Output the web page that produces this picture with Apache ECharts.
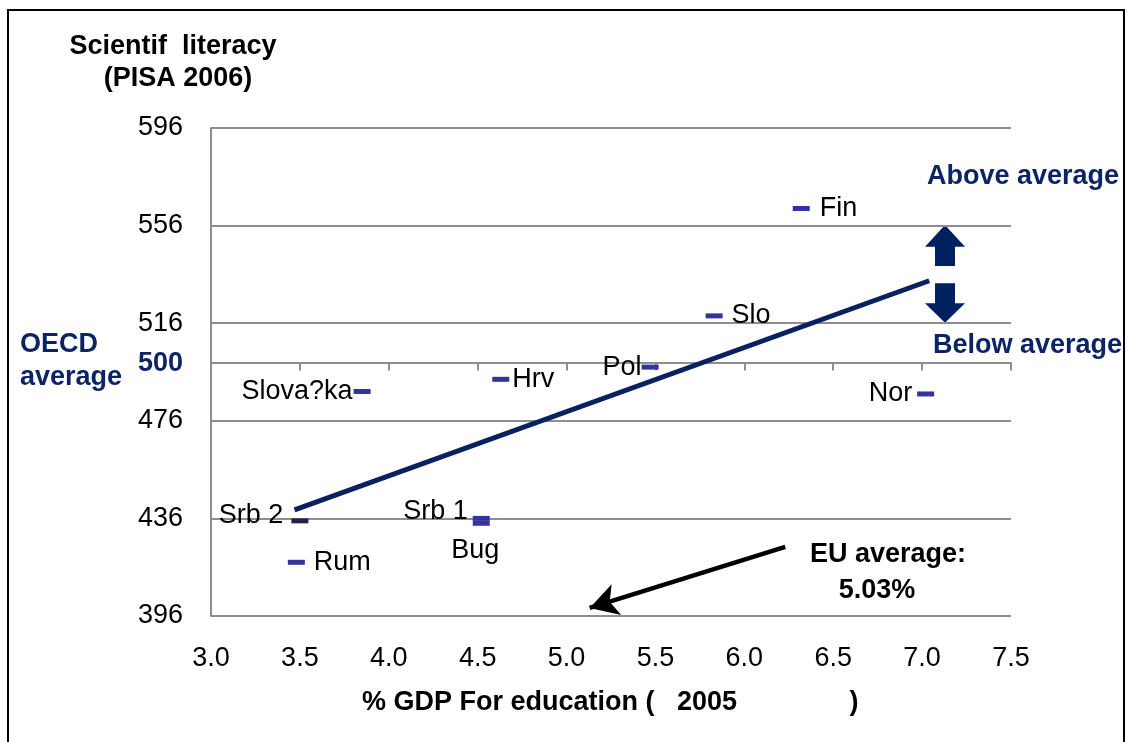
<!DOCTYPE html>
<html>
<head>
<meta charset="utf-8">
<title>PISA 2006 vs GDP for education</title>
<script src="https://cdn.jsdelivr.net/npm/echarts@6/dist/echarts.min.js"></script>
<style>
  html, body { margin: 0; padding: 0; background: #fff; }
  #main { width: 1130px; height: 742px; }
</style>
</head>
<body>
<div id="main"></div>
<script>
// countries, % of GDP for education (2005) and PISA 2006 science score
var countries = ['Fin', 'Slo', 'Pol', 'Hrv', 'Slova?ka', 'Nor', 'Srb 1', 'Bug', 'Srb 2', 'Rum'];
var gdpShare  = [6.32, 5.83, 5.47, 4.63, 3.85, 7.02, 4.52, 4.52, 3.50, 3.48];
var pisaScore = [563, 519, 498, 493, 488, 487, 436, 434, 435, 418];

// trend line
var trendX = [3.47, 7.04];
var trendY = [439.5, 533.4];

// axis ranges
var xRange = [3.0, 7.5, 0.5];   // min, max, step
var yRange = [396, 596, 40];
var oecdAverage = 500;

// EU average pointer, from the text down to the x axis
var euArrowX = [6.23, 5.13];
var euArrowY = [424.3, 399.3];

var FONT = 'Liberation Sans, Arial, sans-serif';
var FS = 27;
var NAVY = '#0b2466';
var GRID = '#8e8e8e';

// where every country name goes
var labelPlace = {
  'Fin':      { position: 'right', distance: 10 },
  'Slo':      { position: 'right', distance: 9 },
  'Pol':      { position: 'left',  distance: 0 },
  'Hrv':      { position: 'right', distance: 3 },
  'Slova?ka': { position: 'left',  distance: 1 },
  'Nor':      { position: 'left',  distance: 5 },
  'Srb 1':    { position: 'left',  distance: 5, offset: [0, -7] },
  'Bug':      { position: 'bottom', distance: 11, offset: [-6, 0] },
  'Srb 2':    { position: 'left',  distance: 8, offset: [0, -5] },
  'Rum':      { position: 'right', distance: 9 }
};

var points = countries.map(function (name, i) {
  var p = labelPlace[name];
  var item = {
    name: name,
    value: [gdpShare[i], pisaScore[i]],
    label: {
      show: true,
      formatter: '{b}',
      position: p.position,
      distance: p.distance,
      offset: p.offset || [0, 0]
    }
  };
  if (name === 'Srb 2') item.itemStyle = { color: '#22224a' };
  return item;
});

var trendData = trendX.map(function (x, i) { return [x, trendY[i]]; });

var myChart = echarts.init(document.getElementById('main'));

var option = {
  backgroundColor: '#fff',
  animation: false,
  textStyle: { fontFamily: FONT },
  grid: { left: 211, right: 119, top: 128, bottom: 126 },
  xAxis: [
    {
      type: 'value',
      min: xRange[0], max: xRange[1], interval: xRange[2],
      axisLine: { show: false },
      axisTick: { show: false },
      splitLine: { show: false },
      axisLabel: {
        fontSize: FS, color: '#000', margin: 29, fontFamily: FONT,
        formatter: function (v) { return v.toFixed(1); }
      }
    },
    {
      // the horizontal axis crosses at the OECD average
      type: 'value',
      position: 'bottom',
      offset: -(616 - 362.4),
      min: xRange[0], max: xRange[1], interval: xRange[2],
      axisLine: { show: true, lineStyle: { color: GRID, width: 2 } },
      axisTick: { show: true, length: 8, lineStyle: { color: GRID, width: 2 } },
      axisLabel: { show: false },
      splitLine: { show: false }
    }
  ],
  yAxis: {
    type: 'value',
    min: yRange[0], max: yRange[1], interval: yRange[2],
    axisLine: { show: true, lineStyle: { color: GRID, width: 2 } },
    axisTick: { show: false },
    splitLine: { show: true, lineStyle: { color: GRID, width: 2 } },
    axisLabel: { fontSize: FS, color: '#000', margin: 28, fontFamily: FONT }
  },
  series: [
    {
      name: 'trend',
      type: 'line',
      data: trendData,
      showSymbol: false,
      symbol: 'none',
      lineStyle: { color: '#0a2160', width: 5 },
      z: 3,
      markLine: {
        silent: true,
        symbol: ['none', 'arrow'],
        symbolSize: [24, 28],
        lineStyle: { color: '#000', width: 4.5, type: 'solid', opacity: 1 },
        label: { show: false },
        data: [[
          { coord: [euArrowX[0], euArrowY[0]] },
          { coord: [euArrowX[1], euArrowY[1]] }
        ]]
      }
    },
    {
      name: 'countries',
      type: 'scatter',
      data: points,
      symbol: 'rect',
      symbolSize: [17, 5],
      itemStyle: { color: '#333399', opacity: 1 },
      label: { fontSize: FS, color: '#000', fontFamily: FONT },
      z: 4
    }
  ],
  graphic: [
    {
      type: 'rect', silent: true,
      shape: { x: 8, y: 10, width: 1116, height: 760 },
      style: { fill: 'none', stroke: '#000', lineWidth: 2 }
    },
    { type: 'text', style: { x: 173, y: 47, text: 'Scientif  literacy', font: 'bold 27px ' + FONT, fill: '#000', textAlign: 'center', textVerticalAlign: 'middle' } },
    { type: 'text', style: { x: 178, y: 79, text: '(PISA 2006)', font: 'bold 27px ' + FONT, fill: '#000', textAlign: 'center', textVerticalAlign: 'middle' } },
    { type: 'text', style: { x: 20, y: 345, text: 'OECD', font: 'bold 27px ' + FONT, fill: NAVY, textAlign: 'left', textVerticalAlign: 'middle' } },
    { type: 'text', style: { x: 20, y: 378, text: 'average', font: 'bold 27px ' + FONT, fill: NAVY, textAlign: 'left', textVerticalAlign: 'middle' } },
    { type: 'text', style: { x: 183, y: 364, text: String(oecdAverage), font: 'bold 27px ' + FONT, fill: NAVY, textAlign: 'right', textVerticalAlign: 'middle' } },
    { type: 'text', style: { x: 927, y: 177, text: 'Above average', font: 'bold 27px ' + FONT, fill: NAVY, textAlign: 'left', textVerticalAlign: 'middle' } },
    { type: 'text', style: { x: 933, y: 346, text: 'Below average', font: 'bold 27px ' + FONT, fill: NAVY, textAlign: 'left', textVerticalAlign: 'middle' } },
    { type: 'text', style: { x: 888, y: 555, text: 'EU average:', font: 'bold 27px ' + FONT, fill: '#000', textAlign: 'center', textVerticalAlign: 'middle' } },
    { type: 'text', style: { x: 877, y: 591, text: '5.03%', font: 'bold 27px ' + FONT, fill: '#000', textAlign: 'center', textVerticalAlign: 'middle' } },
    { type: 'text', style: { x: 362, y: 703, text: '% GDP For education (   2005               )', font: 'bold 27px ' + FONT, fill: '#000', textAlign: 'left', textVerticalAlign: 'middle' } },
    // up / down arrows
    {
      type: 'polygon', silent: true,
      shape: { points: [[945, 225], [965, 246.7], [955, 246.7], [955, 266], [935, 266], [935, 246.7], [925, 246.7]] },
      style: { fill: '#002060' }
    },
    {
      type: 'polygon', silent: true,
      shape: { points: [[945, 322.7], [965, 303.3], [955, 303.3], [955, 283.3], [935, 283.3], [935, 303.3], [925, 303.3]] },
      style: { fill: '#002060' }
    }
  ]
};

myChart.setOption(option);
</script>
</body>
</html>
